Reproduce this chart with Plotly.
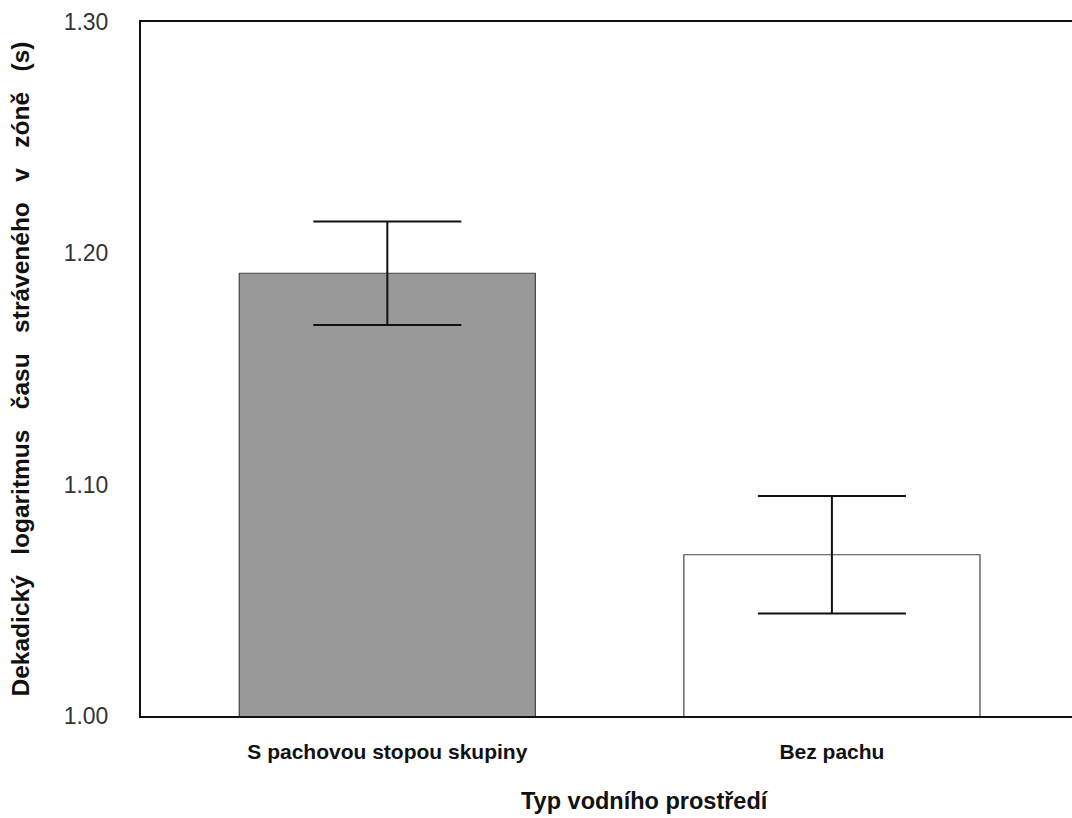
import plotly.graph_objects as go

categories = ["S pachovou stopou skupiny", "Bez pachu"]
means = [1.1914, 1.0697]
errors = [0.0224, 0.0254]
bar_colors = ["#999999", "#ffffff"]
y_ticks = [1.00, 1.10, 1.20, 1.30]
y_tick_labels = ["1.00", "1.10", "1.20", "1.30"]
x_title = "Typ vodního prostředí"
y_title_words = ["Dekadický", "logaritmus", "času", "stráveného", "v", "zóně", "(s)"]

y_title = "\u00a0\u00a0\u00a0".join(y_title_words)

fig = go.Figure()
fig.add_trace(go.Bar(
    x=[0, 1], y=means, base=0,
    width=0.666,
    marker=dict(color=bar_colors, line=dict(color="#444444", width=1.2)),
    error_y=dict(type="data", array=errors, visible=True, color="#111111",
                 thickness=2, width=74),
    showlegend=False,
    hoverinfo="skip",
))

fig.add_annotation(
    text=f"<b>{x_title}</b>", xref="paper", yref="paper",
    x=(645 - 141) / (1072 - 141), y=-(801 - 716) / (716 - 22),
    xanchor="center", yanchor="middle", showarrow=False,
    font=dict(family="Liberation Sans, Arial", size=23.5, color="#111111"),
)

fig.update_layout(
    width=1072, height=818,
    margin=dict(l=141, r=0, t=22, b=102),
    paper_bgcolor="white", plot_bgcolor="white",
    bargap=0.334,
    xaxis=dict(
        range=[-0.554, 1.54],
        tickmode="array", tickvals=[0, 1], ticktext=[f"<b>{c}</b>" for c in categories],
        showline=True, linecolor="#111111", linewidth=2, mirror=True,
        showgrid=False, zeroline=False, ticks="", ticklabelstandoff=16,
        tickfont=dict(family="Liberation Sans, Arial", size=21, color="#111111"),
    ),
    yaxis=dict(
        range=[1.00, 1.30],
        tickmode="array", tickvals=y_ticks, ticktext=y_tick_labels,
        showline=True, linecolor="#111111", linewidth=2, mirror=False,
        showgrid=False, zeroline=False, ticks="", ticklabelstandoff=26,
        tickfont=dict(family="Liberation Sans, Arial", size=23, color="#333333"),
        title=dict(text=f"<b>{y_title}</b>", standoff=27,
                   font=dict(family="Liberation Sans, Arial", size=24.5, color="#111111")),
    ),
)

fig.write_html("out.html", config={"displayModeBar": False},
               post_script="document.body.style.margin='0px';")
